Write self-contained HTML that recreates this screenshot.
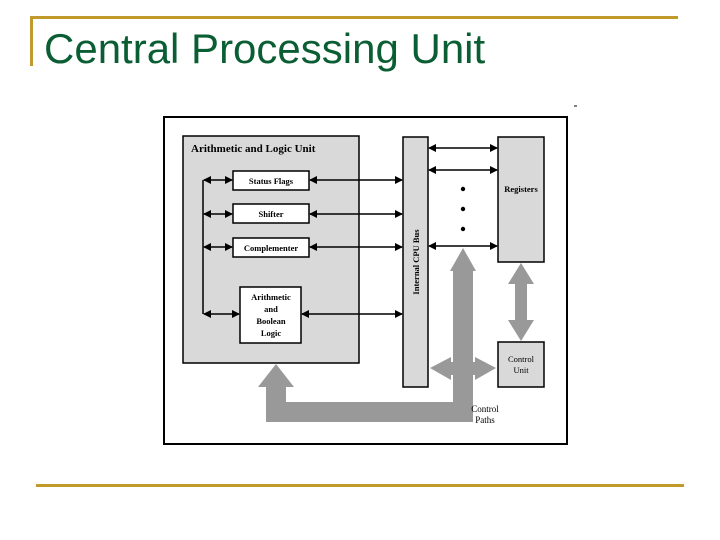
<!DOCTYPE html>
<html><head><style>
body{margin:0;width:720px;height:540px;background:#fff;overflow:hidden;position:relative;font-family:"Liberation Sans",sans-serif}
.t{position:absolute;left:44px;top:25px;font-size:42px;color:#0b5e34;white-space:nowrap}
</style></head><body>
<div style="position:absolute;left:30px;top:16px;width:648px;height:3px;background:#c09a2a"></div>
<div style="position:absolute;left:30px;top:16px;width:3px;height:50px;background:#c09a2a"></div>
<div style="position:absolute;left:36px;top:484px;width:648px;height:3px;background:#c09a2a"></div>
<div class="t">Central Processing Unit</div>
<svg width="720" height="540" style="position:absolute;left:0;top:0" font-family="Liberation Serif,serif" font-weight="bold">
<defs>
<marker id="a" markerWidth="8" markerHeight="8" refX="7" refY="4" orient="auto-start-reverse" markerUnits="userSpaceOnUse"><path d="M0,0L8,4L0,8z" fill="#000"/></marker>
</defs>
<line x1="574" y1="106" x2="577" y2="106" stroke="#000" stroke-width="1"/>
<rect x="164" y="117" width="403" height="327" fill="#fff" stroke="#000" stroke-width="2"/>
<rect x="183" y="136" width="176" height="227" fill="#d9d9d9" stroke="#000" stroke-width="1.5"/>
<text x="191" y="152" font-size="11">Arithmetic and Logic Unit</text>
<g fill="#fff" stroke="#000" stroke-width="1.5">
<rect x="233" y="171" width="76" height="19"/><rect x="233" y="204" width="76" height="19"/><rect x="233" y="238" width="76" height="19"/><rect x="240" y="287" width="61" height="56"/>
</g>
<g font-size="8.5" text-anchor="middle">
<text x="271" y="184">Status Flags</text><text x="271" y="217">Shifter</text><text x="271" y="251">Complementer</text>
<text x="271" y="300">Arithmetic</text><text x="271" y="312">and</text><text x="271" y="324">Boolean</text><text x="271" y="336">Logic</text>
</g>
<rect x="403" y="137" width="25" height="250" fill="#d9d9d9" stroke="#000" stroke-width="1.5"/>
<text transform="translate(419,262) rotate(-90)" font-size="8.5" text-anchor="middle">Internal CPU Bus</text>
<rect x="498" y="137" width="46" height="125" fill="#d9d9d9" stroke="#000" stroke-width="1.5"/>
<text x="521" y="192" font-size="8.5" text-anchor="middle">Registers</text>
<rect x="498" y="342" width="46" height="45" fill="#d9d9d9" stroke="#000" stroke-width="1.5"/>
<text x="521" y="362" font-size="8.5" text-anchor="middle" font-weight="normal">Control</text>
<text x="521" y="373" font-size="8.5" text-anchor="middle" font-weight="normal">Unit</text>
<g stroke="#000" stroke-width="1.5" marker-start="url(#a)" marker-end="url(#a)">
<line x1="204" y1="180" x2="232" y2="180"/><line x1="204" y1="214" x2="232" y2="214"/><line x1="204" y1="247" x2="232" y2="247"/><line x1="204" y1="314" x2="239" y2="314"/>
<line x1="310" y1="180" x2="402" y2="180"/><line x1="310" y1="214" x2="402" y2="214"/><line x1="310" y1="247" x2="402" y2="247"/><line x1="302" y1="314" x2="402" y2="314"/>
<line x1="429" y1="148" x2="497" y2="148"/><line x1="429" y1="170" x2="497" y2="170"/><line x1="429" y1="246" x2="497" y2="246"/>
</g>
<line x1="203" y1="180" x2="203" y2="314" stroke="#000" stroke-width="1.5"/>
<g fill="#000"><circle cx="463" cy="189" r="2.2"/><circle cx="463" cy="209" r="2.2"/><circle cx="463" cy="229" r="2.2"/></g>
<g fill="#999">
<path d="M266,422 L266,387 L258,387 L276,364 L294,387 L286,387 L286,402 L453,402 L453,271 L450,271 L463,248 L476,271 L473,271 L473,422 Z"/>
<path d="M430,368 L451,357 L451,362 L475,362 L475,357 L496,368 L475,380 L475,375 L451,375 L451,380 Z"/>
<path d="M521,263 L534,284 L527,284 L527,320 L534,320 L521,341 L508,320 L515,320 L515,284 L508,284 Z"/>
</g>
<text x="485" y="412" font-size="9" text-anchor="middle" font-weight="normal">Control</text>
<text x="485" y="423" font-size="9" text-anchor="middle" font-weight="normal">Paths</text>
</svg>
</body></html>
